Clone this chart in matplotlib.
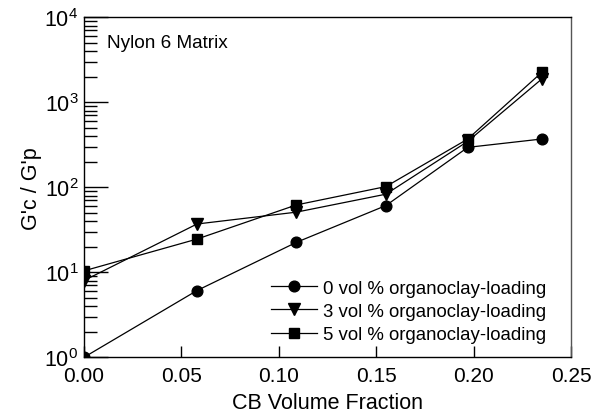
import matplotlib
matplotlib.use("Agg")
import matplotlib.pyplot as plt
from matplotlib.ticker import LogLocator, FixedLocator, NullFormatter

plt.rcParams['font.family'] = ['Liberation Sans', 'DejaVu Sans']
plt.rcParams['mathtext.fontset'] = 'custom'
plt.rcParams['mathtext.rm'] = 'Liberation Sans'
plt.rcParams['mathtext.it'] = 'Liberation Sans:italic'
plt.rcParams['mathtext.bf'] = 'Liberation Sans:bold'

x_cb = [0.0, 0.058, 0.109, 0.155, 0.197, 0.235]
y_0vol = [1.0, 6.1, 22.5, 61, 295, 370]
y_3vol = [8.0, 37, 51, 83, 347, 1880]
y_5vol = [10.4, 24.6, 62, 102, 370, 2250]
labels = ["0 vol % organoclay-loading", "3 vol % organoclay-loading", "5 vol % organoclay-loading"]
x_ticks = [0.00, 0.05, 0.10, 0.15, 0.20, 0.25]
x_ticklabels = ["0.00", "0.05", "0.10", "0.15", "0.20", "0.25"]

fig = plt.figure(figsize=(5.93, 4.14), dpi=100)
ax = fig.add_axes([84/593, 1-358.3/414, 487/593, 340/414])

ax.plot(x_cb, y_0vol, '-', color='black', lw=0.9, marker='o', ms=7.7, label=labels[0])
ax.plot(x_cb, y_3vol, '-', color='black', lw=0.9, marker='v', ms=8, label=labels[1])
ax.plot(x_cb, y_5vol, '-', color='black', lw=0.9, marker='s', ms=6.5, label=labels[2])

ax.set_yscale('log')
ax.set_xlim(0, 0.25)
ax.set_ylim(1, 1e4)
ax.set_xticks(x_ticks)
ax.set_xticklabels(x_ticklabels)
ax.yaxis.set_major_locator(FixedLocator([1, 10, 100, 1000, 10000]))
ax.set_yticklabels([r'$10^{0}$', r'$10^{1}$', r'$10^{2}$', r'$10^{3}$', r'$10^{4}$'])
ax.yaxis.set_minor_locator(LogLocator(base=10, subs=range(2, 10), numticks=20))
ax.yaxis.set_minor_formatter(NullFormatter())

ax.tick_params(axis='x', which='major', direction='in', length=8, width=1, labelsize=15, pad=6, top=False)
ax.tick_params(axis='y', which='major', direction='in', length=17, width=1, labelsize=15.5, pad=4, right=False)
ax.tick_params(axis='y', which='minor', direction='in', length=9, width=1, right=False)

for s in ['left', 'bottom', 'top']:
    ax.spines[s].set_linewidth(1.0)
ax.spines['right'].set_linewidth(1.0)
ax.spines['right'].set_color('#555555')

ax.set_xlabel('CB Volume Fraction', fontsize=15.5, labelpad=5)
ax.set_ylabel("G'c / G'p", fontsize=15.5, labelpad=2)

ax.text(0.047, 0.925, 'Nylon 6 Matrix', transform=ax.transAxes, fontsize=13.7, va='center', ha='left')

ax.legend(loc='lower right', bbox_to_anchor=(0.9487, 0.041), frameon=False, fontsize=13.4,
          handlelength=2.5, borderaxespad=0, labelspacing=0.34, handletextpad=0.3, borderpad=0)

fig.savefig('out.png', dpi=100)
